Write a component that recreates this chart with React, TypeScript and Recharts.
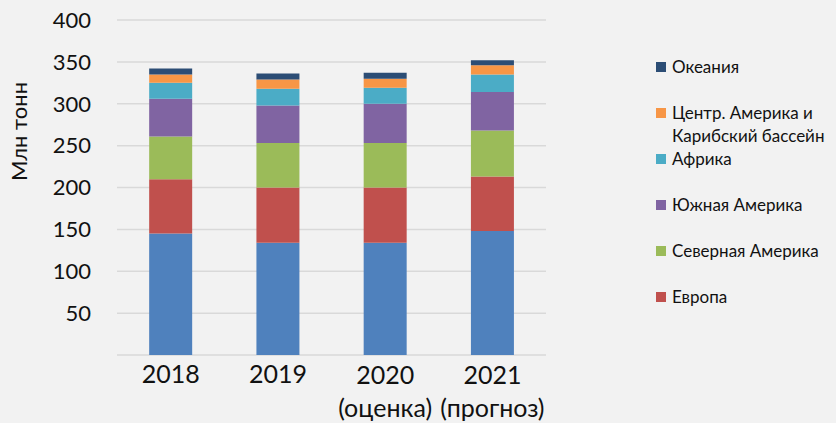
import { BarChart, Bar, XAxis, YAxis, CartesianGrid } from "recharts";

const years = ["2018", "2019", "2020\n(оценка)", "2021\n(прогноз)"];
const asia = [145, 134, 134, 148];
const europe = [65, 66, 66, 65];
const northAmerica = [51, 53, 53, 55];
const southAmerica = [45, 45, 47, 46];
const africa = [19, 20, 19, 21];
const centralAmerica = [10, 11, 11, 11];
const oceania = [7, 7, 7, 6];
const yTicks = [0, 50, 100, 150, 200, 250, 300, 350, 400];

const series = [
  { key: "asia", name: "Азия", color: "#4f81bd", values: asia, inLegend: false },
  { key: "europe", name: "Европа", color: "#c0504d", values: europe, inLegend: true },
  { key: "northAmerica", name: "Северная Америка", color: "#9bbb59", values: northAmerica, inLegend: true },
  { key: "southAmerica", name: "Южная Америка", color: "#8064a2", values: southAmerica, inLegend: true },
  { key: "africa", name: "Африка", color: "#4bacc6", values: africa, inLegend: true },
  { key: "centralAmerica", name: "Центр. Америка и\nКарибский бассейн", color: "#f79646", values: centralAmerica, inLegend: true },
  { key: "oceania", name: "Океания", color: "#2c4d75", values: oceania, inLegend: true },
];

const data = years.map((year, i) => {
  const row: Record<string, string | number> = { year };
  series.forEach((s) => {
    row[s.key] = s.values[i];
  });
  return row;
});

const FONT = "Lato, 'DejaVu Sans', sans-serif";
const TEXT = "#111111";

function YearTick(props: any) {
  const { x, y, payload } = props;
  const lines = String(payload.value).split("\n");
  return (
    <g transform={`translate(${x},${y})`}>
      {lines.map((line, i) => (
        <text
          key={i}
          x={0}
          y={lines.length > 1 ? 29 + i * 33 : 28}
          textAnchor="middle"
          fill={TEXT}
          fontSize={25}
          fontFamily={FONT}
        >
          {line}
        </text>
      ))}
    </g>
  );
}

function AxisTitle(props: any) {
  const vb = props.viewBox || { x: 0, y: 20, width: 117, height: 335 };
  const cx = vb.x + 18;
  const cy = vb.y + vb.height / 2 - 56;
  return (
    <text
      x={cx}
      y={cy}
      transform={`rotate(-90, ${cx}, ${cy})`}
      textAnchor="middle"
      dominantBaseline="central"
      fill={TEXT}
      fontSize={22}
      fontFamily={FONT}
    >
      Млн тонн
    </text>
  );
}

function LegendBox() {
  const items = series.filter((s) => s.inLegend).reverse();
  return (
    <div
      style={{
        position: "absolute",
        left: 656,
        top: 56,
        width: 180,
        height: 300,
        fontFamily: FONT,
      }}
    >
      {items.map((s, i) => (
        <div key={s.key} style={{ position: "absolute", left: 0, top: i * 46, width: 180 }}>
          <div
            style={{
              position: "absolute",
              left: 0,
              top: 6,
              width: 10,
              height: 10,
              background: s.color,
            }}
          />
          <div
            style={{
              position: "absolute",
              left: 16,
              top: 0,
              fontSize: 17,
              lineHeight: "22.7px",
              color: TEXT,
              whiteSpace: "pre",
            }}
          >
            {s.name}
          </div>
        </div>
      ))}
    </div>
  );
}

export default function App() {
  return (
    <div
      style={{
        position: "absolute",
        left: 0,
        top: 0,
        width: 836,
        height: 423,
        background: "#f2f2f2",
        overflow: "hidden",
      }}
    >
      <BarChart
        width={836}
        height={423}
        data={data}
        margin={{ top: 20, right: 290, bottom: 0, left: 0 }}
        barCategoryGap="30%"
      >
        <CartesianGrid vertical={false} stroke="#d9d9d9" strokeWidth={1.5} />
        <XAxis
          dataKey="year"
          axisLine={false}
          tickLine={false}
          tickSize={0}
          tickMargin={0}
          interval={0}
          tick={<YearTick />}
          height={68}
        />
        <YAxis
          width={117}
          domain={[0, 400]}
          ticks={yTicks}
          axisLine={false}
          tickLine={false}
          tickSize={0}
          tickMargin={26}
          tickFormatter={(v: number) => (v === 0 ? "" : String(v))}
          tick={{ fill: TEXT, fontSize: 22, fontFamily: FONT }}
          label={<AxisTitle />}
        />
        {series.map((s) => (
          <Bar
            key={s.key}
            dataKey={s.key}
            name={s.name}
            stackId="total"
            fill={s.color}
            isAnimationActive={false}
          />
        ))}
      </BarChart>
      <LegendBox />
    </div>
  );
}
